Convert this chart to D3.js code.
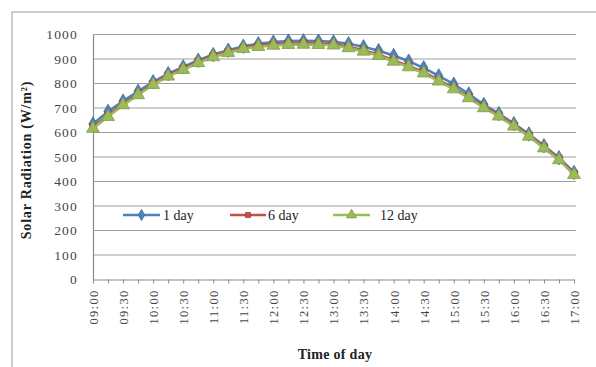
<!DOCTYPE html>
<html>
<head>
<meta charset="utf-8">
<script src="https://cdn.jsdelivr.net/npm/d3@7"></script>
<style>
  html, body { margin: 0; padding: 0; background: #fff; }
  svg { display: block; }
</style>
</head>
<body>
<svg id="chart" width="596" height="367"></svg>
<script>
const times = ["09:00","09:15","09:30","09:45","10:00","10:15","10:30","10:45",
  "11:00","11:15","11:30","11:45","12:00","12:15","12:30","12:45",
  "13:00","13:15","13:30","13:45","14:00","14:15","14:30","14:45",
  "15:00","15:15","15:30","15:45","16:00","16:15","16:30","16:45","17:00"];
const day1 = [635,686,728,768,807,840,868,895,918,936,952,962,969,973,974,973,
  970,962,950,934,914,891,864,831,797,757,714,677,636,594,546,497,437];
const day6 = [621,670,717,758,800,834,861,889,913,930,946,955,960,963,964,963,
  961,950,936,918,895,872,847,814,782,746,705,671,630,589,541,493,432];
const day12 = [616,664,712,753,795,829,856,884,908,925,942,950,955,958,959,958,
  956,945,931,913,890,867,842,809,777,741,700,666,625,584,536,488,427];
const seriesNames = ["1 day", "6 day", "12 day"];
const yTicks = [0,100,200,300,400,500,600,700,800,900,1000];
const labelTimes = ["09:00","09:30","10:00","10:30","11:00","11:30","12:00","12:30",
  "13:00","13:30","14:00","14:30","15:00","15:30","16:00","16:30","17:00"];

const svg = d3.select("#chart");
const serif = "Liberation Serif";

// outer chart border
svg.append("rect").attr("x", 12).attr("y", 12).attr("width", 620).attr("height", 400)
  .attr("fill", "none").attr("stroke", "#bdbdbd").attr("stroke-width", 1.5);

const x = d3.scalePoint().domain(times).range([93, 574]);
const y = d3.scaleLinear().domain([0, 1000]).range([279.5, 34.5]);

// gridlines
svg.append("g").selectAll("line").data(yTicks.filter(d => d > 0)).join("line")
  .attr("x1", 93).attr("x2", 576)
  .attr("y1", d => y(d)).attr("y2", d => y(d))
  .attr("stroke", "#a0a0a0").attr("stroke-width", 1.2);

// y axis
const yAxis = svg.append("g").attr("transform", "translate(93,0)")
  .call(d3.axisLeft(y).tickValues(yTicks).tickFormat(d3.format("d")).tickSize(0).tickPadding(15));
yAxis.select(".domain").attr("stroke", "#8a8a8a").attr("stroke-width", 1.2);
yAxis.selectAll("text").attr("font-family", serif).attr("font-size", 13.5)
  .attr("letter-spacing", 1.2).attr("fill", "#444");

// x axis
const xAxis = svg.append("g").attr("transform", "translate(0," + y(0) + ")")
  .call(d3.axisBottom(x).tickSize(4).tickSizeOuter(0)
    .tickFormat(d => labelTimes.includes(d) ? d : ""));
xAxis.select(".domain").attr("stroke", "#8a8a8a").attr("stroke-width", 1.2);
xAxis.selectAll(".tick line").attr("stroke", "#8a8a8a");
xAxis.selectAll("text")
  .attr("font-family", serif).attr("font-size", 12.5).attr("letter-spacing", 1.3)
  .attr("fill", "#444")
  .attr("transform", "rotate(-90)")
  .attr("text-anchor", "end")
  .attr("x", -10).attr("y", 0).attr("dy", "0.35em");

// axis titles
svg.append("text").attr("transform", "translate(31,160) rotate(-90)")
  .attr("text-anchor", "middle").attr("font-family", serif).attr("font-weight", "bold")
  .attr("font-size", 14).attr("letter-spacing", 0.8).attr("fill", "#222")
  .text("Solar Radiation (W/m²)");
svg.append("text").attr("x", 335).attr("y", 359)
  .attr("text-anchor", "middle").attr("font-family", serif).attr("font-weight", "bold")
  .attr("font-size", 14).attr("letter-spacing", 0.3).attr("fill", "#222")
  .text("Time of day");

const colors = ["#4F81BD", "#C0504D", "#9BBB59"];
const data = [day1, day6, day12];
const symbols = [d3.symbolDiamond, d3.symbolSquare, d3.symbolTriangle];
const symSizes = [60, 44, 72];

const line = d3.line().x((d, i) => x(times[i])).y(d => y(d));

data.forEach((vals, s) => {
  const g = svg.append("g");
  g.append("path").datum(vals).attr("d", line)
    .attr("fill", "none").attr("stroke", colors[s]).attr("stroke-width", 2.6);
  g.selectAll("path.m").data(vals).join("path").attr("class", "m")
    .attr("transform", (d, i) => "translate(" + x(times[i]) + "," + y(d) + ")")
    .attr("d", d3.symbol().type(symbols[s]).size(symSizes[s]))
    .attr("fill", colors[s]).attr("stroke", d3.color(colors[s]).darker(0.5)).attr("stroke-width", 0.8);
});

// legend
const legendItems = [
  {lx1: 123, lx2: 160, tx: 163},
  {lx1: 230, lx2: 266, tx: 268},
  {lx1: 333, lx2: 370, tx: 380}
];
const ly = 215;
legendItems.forEach((it, s) => {
  svg.append("line").attr("x1", it.lx1).attr("x2", it.lx2).attr("y1", ly).attr("y2", ly)
    .attr("stroke", colors[s]).attr("stroke-width", 2.4);
  svg.append("path")
    .attr("transform", "translate(" + ((it.lx1 + it.lx2) / 2) + "," + ly + ")")
    .attr("d", d3.symbol().type(symbols[s]).size(symSizes[s] * 0.6))
    .attr("fill", colors[s]).attr("stroke", d3.color(colors[s]).darker(0.5)).attr("stroke-width", 0.8);
  svg.append("text").attr("x", it.tx).attr("y", ly).attr("dy", "0.35em")
    .attr("font-family", serif).attr("font-size", 14).attr("fill", "#222")
    .text(seriesNames[s]);
});
</script>
</body>
</html>
